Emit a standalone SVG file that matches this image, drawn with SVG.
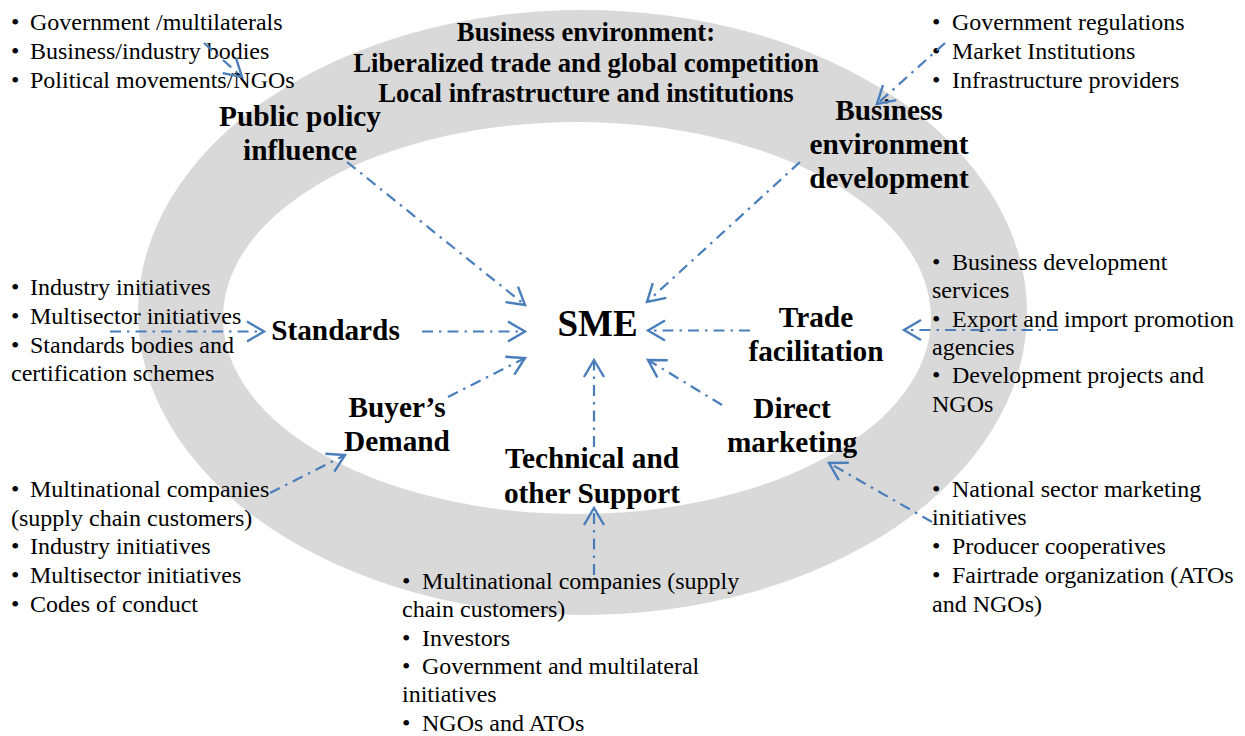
<svg xmlns="http://www.w3.org/2000/svg" width="1245" height="736" viewBox="0 0 1245 736">
<style>
text{font-family:"Liberation Serif",Tinos,"Times New Roman",Times,"Noto Serif",FreeSerif,"DejaVu Serif",serif;fill:#000}
.reg{font-size:24px}
.lbl{font-size:29.3px;font-weight:bold;text-anchor:middle}
.ttl{font-size:26.7px;font-weight:bold;text-anchor:middle}
.sme{font-size:37px;font-weight:bold;text-anchor:middle}
.conn line{stroke:#4a7ebb;stroke-width:2.2;stroke-dasharray:11 6 2.5 6;fill:none;marker-end:url(#arr)}
</style>
<defs>
<marker id="arr" markerUnits="userSpaceOnUse" markerWidth="40" markerHeight="40" refX="0" refY="0" viewBox="-20 -20 40 40" orient="auto" overflow="visible">
<path d="M-17,-10 L0,0 L-17,10" fill="none" stroke="#4a7ebb" stroke-width="2.4" stroke-linejoin="miter"/>
</marker>
</defs>
<rect width="1245" height="736" fill="#fff"/>
<path id="ring" fill-rule="evenodd" fill="#d9d9d9" d="M138,312.5 a444.5,302.5 0 1,0 889,0 a444.5,302.5 0 1,0 -889,0 Z M223,318 a354,196 0 1,0 708,0 a354,196 0 1,0 -708,0 Z"/>

<g id="title" font-family="Liberation Serif, serif">
<text class="ttl" x="586" y="41">Business environment:</text>
<text class="ttl" x="586" y="72">Liberalized trade and global competition</text>
<text class="ttl" x="586" y="102">Local infrastructure and institutions</text>
</g>

<g id="node-sme"><text class="sme" x="597.5" y="336">SME</text></g>
<g id="node-public-policy">
<text class="lbl" x="300" y="126">Public policy</text>
<text class="lbl" x="300" y="160">influence</text>
</g>
<g id="node-business-env-dev">
<text class="lbl" x="889" y="120">Business</text>
<text class="lbl" x="889" y="154">environment</text>
<text class="lbl" x="889" y="188">development</text>
</g>
<g id="node-standards"><text class="lbl" x="335.5" y="340">Standards</text></g>
<g id="node-trade">
<text class="lbl" x="816" y="327">Trade</text>
<text class="lbl" x="816" y="361">facilitation</text>
</g>
<g id="node-buyers">
<text class="lbl" x="397" y="417">Buyer’s</text>
<text class="lbl" x="397" y="451">Demand</text>
</g>
<g id="node-direct">
<text class="lbl" x="792" y="418">Direct</text>
<text class="lbl" x="792" y="452">marketing</text>
</g>
<g id="node-technical">
<text class="lbl" x="592" y="468">Technical and</text>
<text class="lbl" x="592" y="503">other Support</text>
</g>

<g id="list-top-left">
<text class="reg" x="11" y="30">•<tspan x="30">Government /multilaterals</tspan></text>
<text class="reg" x="11" y="59">•<tspan x="30">Business/industry bodies</tspan></text>
<text class="reg" x="11" y="88">•<tspan x="30">Political movements/NGOs</tspan></text>
</g>
<g id="list-top-right">
<text class="reg" x="932" y="30">•<tspan x="952">Government regulations</tspan></text>
<text class="reg" x="932" y="59">•<tspan x="952">Market Institutions</tspan></text>
<text class="reg" x="932" y="88">•<tspan x="952">Infrastructure providers</tspan></text>
</g>
<g id="list-mid-left">
<text class="reg" x="11" y="295">•<tspan x="30">Industry initiatives</tspan></text>
<text class="reg" x="11" y="324">•<tspan x="30">Multisector initiatives</tspan></text>
<text class="reg" x="11" y="353">•<tspan x="30">Standards bodies and</tspan></text>
<text class="reg" x="11" y="381">certification schemes</text>
</g>
<g id="list-mid-right">
<text class="reg" x="932" y="270">•<tspan x="952">Business development</tspan></text>
<text class="reg" x="932" y="298">services</text>
<text class="reg" x="932" y="327">•<tspan x="952">Export and import promotion</tspan></text>
<text class="reg" x="932" y="355">agencies</text>
<text class="reg" x="932" y="383">•<tspan x="952">Development projects and</tspan></text>
<text class="reg" x="932" y="412">NGOs</text>
</g>
<g id="list-bottom-left">
<text class="reg" x="11" y="497">•<tspan x="30">Multinational companies</tspan></text>
<text class="reg" x="11" y="526">(supply chain customers)</text>
<text class="reg" x="11" y="554">•<tspan x="30">Industry initiatives</tspan></text>
<text class="reg" x="11" y="583">•<tspan x="30">Multisector initiatives</tspan></text>
<text class="reg" x="11" y="612">•<tspan x="30">Codes of conduct</tspan></text>
</g>
<g id="list-bottom-center">
<text class="reg" x="402" y="589">•<tspan x="422">Multinational companies (supply</tspan></text>
<text class="reg" x="402" y="617">chain customers)</text>
<text class="reg" x="402" y="646">•<tspan x="422">Investors</tspan></text>
<text class="reg" x="402" y="674">•<tspan x="422">Government and multilateral</tspan></text>
<text class="reg" x="402" y="702">initiatives</text>
<text class="reg" x="402" y="731">•<tspan x="422">NGOs and ATOs</tspan></text>
</g>
<g id="list-bottom-right">
<text class="reg" x="932" y="497">•<tspan x="952">National sector marketing</tspan></text>
<text class="reg" x="932" y="525">initiatives</text>
<text class="reg" x="932" y="554">•<tspan x="952">Producer cooperatives</tspan></text>
<text class="reg" x="932" y="583">•<tspan x="952">Fairtrade organization (ATOs</tspan></text>
<text class="reg" x="932" y="612">and NGOs)</text>
</g>

<g id="connectors" class="conn">
<line x1="204" y1="43" x2="242" y2="77"/>
<line x1="347" y1="162" x2="525" y2="305"/>
<line x1="945" y1="43" x2="877" y2="104"/>
<line x1="800" y1="162" x2="647" y2="302"/>
<line x1="110" y1="331.5" x2="264" y2="331.5"/>
<line x1="422" y1="331.5" x2="525" y2="331.5"/>
<line x1="448" y1="397" x2="525" y2="358"/>
<line x1="270" y1="493" x2="345" y2="455"/>
<line x1="594" y1="575" x2="594" y2="508"/>
<line x1="594" y1="447" x2="594" y2="360"/>
<line x1="722" y1="405" x2="648" y2="360"/>
<line x1="932" y1="522" x2="829" y2="463"/>
<line x1="750" y1="330.5" x2="648" y2="330.5"/>
<line x1="1058" y1="330" x2="904" y2="330"/>
</g>
</svg>
